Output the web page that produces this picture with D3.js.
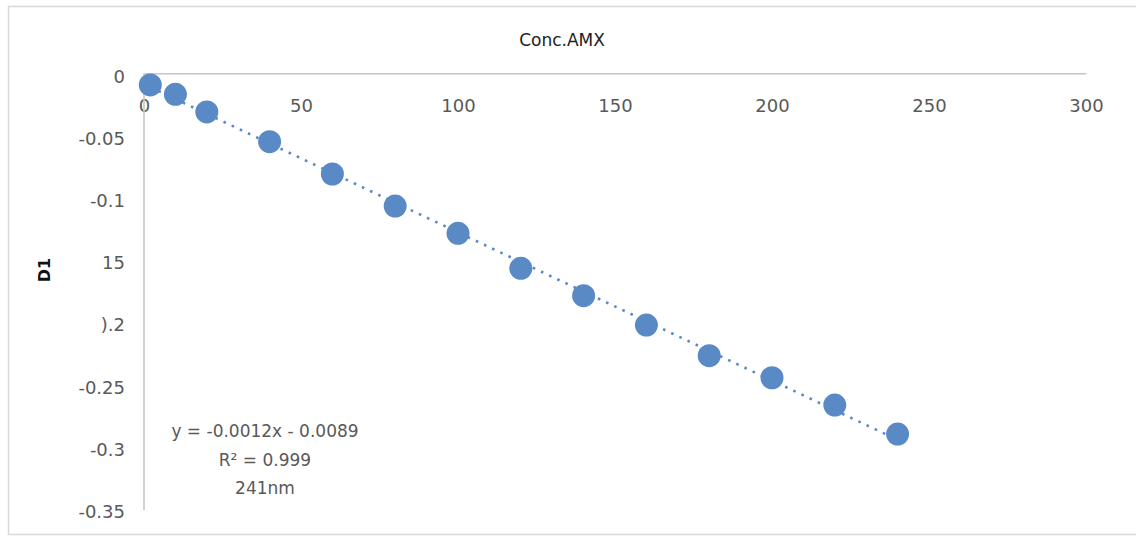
<!DOCTYPE html>
<html>
<head>
<meta charset="utf-8">
<script src="https://cdn.jsdelivr.net/npm/d3@7"></script>
<style>
  html, body { margin: 0; padding: 0; background: #fff; }
  svg { display: block; }
  text { font-family: "DejaVu Sans", sans-serif; }
</style>
</head>
<body>
<div id="chart"></div>
<script>
// data
var concValues = [2, 10, 20, 40, 60, 80, 100, 120, 140, 160, 180, 200, 220, 240];
var d1Values = [-0.0094, -0.0169, -0.0311, -0.0550, -0.0810, -0.1068, -0.1287,
                -0.1569, -0.1789, -0.2025, -0.2272, -0.2449, -0.2669, -0.2902];
var xTicks = [0, 50, 100, 150, 200, 250, 300];
var yTicks = [0, -0.05, -0.1, -0.15, -0.2, -0.25, -0.3, -0.35];
var yTickLabels = ["0", "-0.05", "-0.1", "15", ").2", "-0.25", "-0.3", "-0.35"];
var trendLabels = ["y = -0.0012x - 0.0089", "R\u00B2 = 0.999", "241nm"];

var width = 1136, height = 536;
var blue = "#5a8ac6";

var svg = d3.select("#chart").append("svg")
  .attr("width", width)
  .attr("height", height);

// chart frame
svg.append("rect")
  .attr("x", 8.5).attr("y", 6.5)
  .attr("width", 1140).attr("height", 528)
  .attr("fill", "#fff")
  .attr("stroke", "#d9d9d9")
  .attr("stroke-width", 1.5);

var scaleX = d3.scaleLinear().domain([0, 300]).range([144, 1086]);
var scaleY = d3.scaleLinear().domain([0, -0.35]).range([73.3, 508.4]);

// x axis sits on y = 0, labels below it
var xAxis = svg.append("g")
  .attr("transform", "translate(0," + scaleY(0) + ")")
  .call(d3.axisBottom(scaleX).tickValues(xTicks).tickSize(0).tickPadding(26));
xAxis.select(".domain").attr("stroke", "#c6c6c6").attr("stroke-width", 1.6);
xAxis.selectAll("text")
  .attr("font-size", 18)
  .attr("fill", "#595959")
  .attr("font-family", "DejaVu Sans, sans-serif");

var yAxis = svg.append("g")
  .attr("transform", "translate(" + scaleX(0) + ",0)")
  .call(d3.axisLeft(scaleY).tickValues(yTicks).tickSize(0).tickPadding(19)
    .tickFormat(function(d, i) { return yTickLabels[i]; }));
yAxis.select(".domain").attr("stroke", "#c6c6c6").attr("stroke-width", 1.6)
  .attr("d", "M0," + scaleY(0) + "V510");
yAxis.selectAll("text")
  .attr("font-size", 18)
  .attr("fill", "#595959")
  .attr("dy", "0.5em")
  .attr("font-family", "DejaVu Sans, sans-serif");

// title and axis label
svg.append("text")
  .attr("x", 562).attr("y", 46)
  .attr("text-anchor", "middle")
  .attr("font-size", 17)
  .attr("fill", "#222")
  .text("Conc.AMX");

svg.append("text")
  .attr("transform", "translate(50,270) rotate(-90)")
  .attr("text-anchor", "middle")
  .attr("font-size", 16)
  .attr("font-weight", "bold")
  .attr("fill", "#111")
  .text("D1");

// linear trendline fitted to the points
var n = concValues.length;
var mx = d3.mean(concValues), my = d3.mean(d1Values);
var sxy = 0, sxx = 0;
for (var i = 0; i < n; i ++) {
  sxy += (concValues[i] - mx) * (d1Values[i] - my);
  sxx += (concValues[i] - mx) * (concValues[i] - mx);
}
var slope = sxy / sxx;
var intercept = my - slope * mx;
var xExtent = d3.extent(concValues);

svg.append("line")
  .attr("x1", scaleX(xExtent[0]))
  .attr("y1", scaleY(slope * xExtent[0] + intercept))
  .attr("x2", scaleX(xExtent[1]))
  .attr("y2", scaleY(slope * xExtent[1] + intercept))
  .attr("stroke", blue)
  .attr("stroke-width", 2.6)
  .attr("stroke-dasharray", "2.6 6.4");

// points
svg.selectAll(".pt")
  .data(concValues)
  .enter()
  .append("circle")
  .attr("class", "pt")
  .attr("cx", function(d) { return scaleX(d); })
  .attr("cy", function(d, i) { return scaleY(d1Values[i]); })
  .attr("r", 11.5)
  .attr("fill", blue);

// trendline label
svg.selectAll(".trend-label")
  .data(trendLabels)
  .enter()
  .append("text")
  .attr("class", "trend-label")
  .attr("x", 265)
  .attr("y", function(d, i) { return 437 + i * 28.5; })
  .attr("text-anchor", "middle")
  .attr("font-size", 17)
  .attr("fill", "#595959")
  .text(function(d) { return d; });
</script>
</body>
</html>
